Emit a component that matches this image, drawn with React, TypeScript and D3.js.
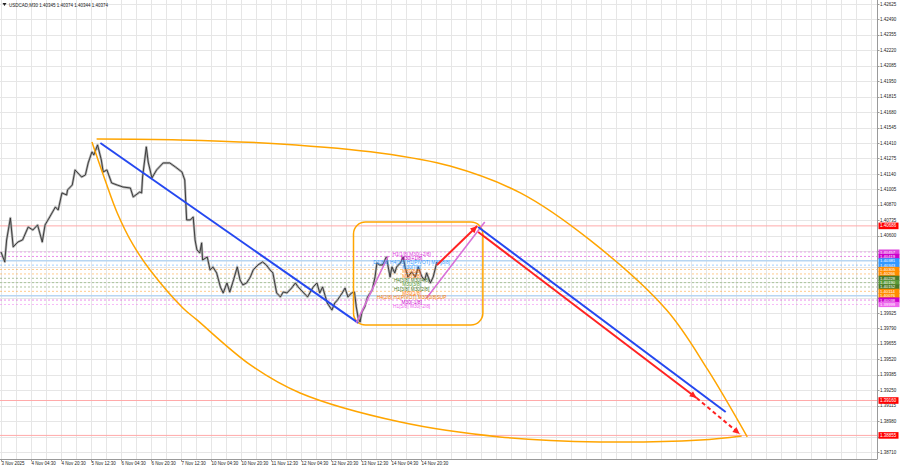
import React from 'react';
import * as d3 from 'd3';

const W = 900;
const H = 468;
const PLOT_R = 877;
const PLOT_B = 459;

const titleText = 'USDCAD,M30  1.40345 1.40374 1.40344 1.40374';

const priceTickLabels = [
  '1.42625', '1.42490', '1.42355', '1.42220', '1.42085', '1.41950', '1.41815', '1.41680',
  '1.41545', '1.41410', '1.41275', '1.41140', '1.41005', '1.40870', '1.40735', '1.40600',
  '1.39925', '1.39790', '1.39655', '1.39520',
  '1.39385', '1.39250', '1.39115', '1.38980', '1.38710',
];
const gridPrices = [
  1.42625, 1.42490, 1.42355, 1.42220, 1.42085, 1.41950, 1.41815, 1.41680,
  1.41545, 1.41410, 1.41275, 1.41140, 1.41005, 1.40870, 1.40735, 1.40600,
  1.40465, 1.40330, 1.40195, 1.40060, 1.39925, 1.39790, 1.39655, 1.39520,
  1.39385, 1.39250, 1.39115, 1.38980, 1.38845, 1.38710,
];

const timeLabels = [
  '3 Nov 2025', '4 Nov 04:30', '4 Nov 20:30', '5 Nov 12:30', '6 Nov 04:30', '6 Nov 20:30',
  '7 Nov 12:30', '10 Nov 04:30', '10 Nov 20:30', '11 Nov 12:30', '12 Nov 04:30',
  '12 Nov 20:30', '13 Nov 12:30', '14 Nov 04:30', '14 Nov 20:30',
];
const timeLabelBars = [0, 32, 64, 96, 128, 160, 192, 224, 256, 288, 320, 352, 384, 416, 448];

// price path (bar index, price)
const priceBars = [0, 4, 6, 10, 13, 18, 23, 29, 34, 39, 44, 47, 52, 58, 61, 65, 70, 71, 76, 79, 82, 86, 90, 93, 97, 99, 103, 107, 109, 113, 118, 124, 130, 138, 141, 148, 150, 151, 155, 157, 161, 166, 173, 180, 186, 193, 196, 198, 202, 205, 207, 209, 212, 214, 215, 220, 223, 226, 230, 234, 237, 241, 244, 248, 252, 255, 258, 262, 266, 269, 274, 279, 283, 287, 290, 294, 298, 301, 305, 310, 314, 317, 322, 327, 333, 337, 340, 343, 348, 353, 356, 359, 364, 367, 370, 374, 377, 379, 381, 383, 385, 388, 391, 396, 399, 401, 404, 407, 411, 413, 415, 417, 420, 422, 426, 429, 431, 434, 438, 442, 445, 449, 452, 454, 458, 461, 465];
const priceClose = [1.40458, 1.40371, 1.40563, 1.40755, 1.40502, 1.40545, 1.40563, 1.40676, 1.40650, 1.40694, 1.40545, 1.40694, 1.40764, 1.40851, 1.40825, 1.40974, 1.40956, 1.41000, 1.41043, 1.41175, 1.41148, 1.41113, 1.41131, 1.41236, 1.41332, 1.41306, 1.41393, 1.41262, 1.41157, 1.41175, 1.41061, 1.41043, 1.41026, 1.41017, 1.40939, 1.40982, 1.40974, 1.41113, 1.41376, 1.41244, 1.41105, 1.41175, 1.41236, 1.41236, 1.41201, 1.41157, 1.41087, 1.40738, 1.40738, 1.40764, 1.40563, 1.40476, 1.40449, 1.40537, 1.40388, 1.40414, 1.40301, 1.40327, 1.40275, 1.40152, 1.40100, 1.40187, 1.40108, 1.40213, 1.40327, 1.40213, 1.40170, 1.40187, 1.40240, 1.40301, 1.40344, 1.40371, 1.40344, 1.40301, 1.40275, 1.40100, 1.40065, 1.40108, 1.40100, 1.40143, 1.40187, 1.40152, 1.40108, 1.40065, 1.40152, 1.40187, 1.40100, 1.40152, 1.40012, 1.39951, 1.40012, 1.40039, 1.40100, 1.40143, 1.40065, 1.40100, 1.40108, 1.39977, 1.39881, 1.39846, 1.39934, 1.39977, 1.40065, 1.40126, 1.40240, 1.40362, 1.40344, 1.40344, 1.40414, 1.40327, 1.40240, 1.40327, 1.40275, 1.40327, 1.40362, 1.40414, 1.40327, 1.40240, 1.40283, 1.40240, 1.40327, 1.40240, 1.40213, 1.40275, 1.40187, 1.40240, 1.40371];

// Murrey math levels
const mmLevels = [1.40457, 1.40419, 1.40381, 1.40343, 1.40305, 1.40266, 1.40228, 1.40190, 1.40152, 1.40114, 1.40076, 1.40038, 1.39999];
const mmColors = ['#dd44dd', '#cc00cc', '#3399ff', '#3399ff', '#ff8c00', '#ff8c00', '#4a7a2a', '#5a9a3a', '#4a7a2a', '#ff8c00', '#ff8c00', '#cc00cc', '#ee66ee'];
const mmTexts = [
  'H1[1/8] M30[+2/8]', 'M30[+1/8]', 'D1[8/8] H4[1/8] H1[PIVOT] M30[8/8]', 'M30[7/8]', 'M30[6/8]',
  'M30[5/8]', 'H4[3/8] M30[4/8]', 'M30[3/8]', 'H1[3/8] M30[2/8]', 'M30[1/8]',
  'H4[2/8] H1[PIVOT] M30[0/8]SUP', 'M30[-1/8]', 'H1[5/8] M30[-2/8]',
];

// red horizontal levels
const redLevels = [1.40686, 1.39160, 1.38855];

// drawn objects (bar, price)
const blueDownBars = [106, 381];
const blueDownPrices = [1.41410, 1.39838];
const pink1Bars = [379, 413];
const pink1Prices = [1.39838, 1.40423];
const pink2Bars = [454, 516];
const pink2Prices = [1.40056, 1.40720];
const redUpBars = [465, 508];
const redUpPrices = [1.40344, 1.40685];
const blueProjBars = [509, 773];
const blueProjPrices = [1.40676, 1.39060];
const redProjBars = [509, 742, 788];
const redProjPrices = [1.40633, 1.39182, 1.38868];
const boxBars = [376, 514];
const boxPrices = [1.40720, 1.39820];
const arcUpperBars = [102, 191, 298, 404, 479, 554, 628, 710, 754, 796];
const arcUpperPrices = [1.41445, 1.41437, 1.41402, 1.41323, 1.41209, 1.40974, 1.40563, 1.39951, 1.39427, 1.38842];
const arcLowerBars = [97, 111, 124, 141, 159, 194, 209, 266, 319, 426, 532, 639, 746, 790];
const arcLowerPrices = [1.41419, 1.41087, 1.40799, 1.40519, 1.40301, 1.39969, 1.39864, 1.39471, 1.39226, 1.38972, 1.38842, 1.38798, 1.38815, 1.38850];
const mmLabelBar = 438;

const FONT = '"Liberation Sans", Arial, sans-serif';

function arrowHead(x1: number, y1: number, x2: number, y2: number, len = 7, half = 3.2) {
  const a = Math.atan2(y2 - y1, x2 - x1);
  const bx = x2 - len * Math.cos(a);
  const by = y2 - len * Math.sin(a);
  const px = -Math.sin(a) * half;
  const py = Math.cos(a) * half;
  return `${x2},${y2} ${bx + px},${by + py} ${bx - px},${by - py}`;
}

export default function App() {
  const x = d3.scaleLinear().domain([0, 800]).range([1, 751]);
  const y = d3.scaleLinear().domain([1.38710, 1.42625]).range([452, 4]);

  const line = d3.line<[number, number]>().x(d => x(d[0])).y(d => y(d[1]));
  const curve = d3.line<[number, number]>().x(d => x(d[0])).y(d => y(d[1])).curve(d3.curveCatmullRom.alpha(0.5));

  const pricePts: [number, number][] = priceBars.map((b, i) => [b, priceClose[i]]);
  const zip = (bs: number[], ps: number[]) => bs.map((b, i) => [b, ps[i]] as [number, number]);

  const vGrid: number[] = [];
  for (let b = 0; x(b) < PLOT_R; b += 16) vGrid.push(b);

  const redUp = zip(redUpBars, redUpPrices);
  const redProj = zip(redProjBars, redProjPrices);

  return (
    <svg width={W} height={H} style={{ position: 'absolute', left: 0, top: 0, display: 'block', background: '#fff' }}>
      <rect x={0} y={0} width={W} height={H} fill="#fff" />
      {/* grid */}
      {vGrid.map(b => (
        <line key={'vg' + b} x1={Math.round(x(b)) + 0.5} x2={Math.round(x(b)) + 0.5} y1={0} y2={PLOT_B} stroke="#e6e6e6" strokeWidth={1} />
      ))}
      {gridPrices.map(t => (
        <line key={'hg' + t} x1={0} x2={PLOT_R} y1={Math.round(y(t)) + 0.5} y2={Math.round(y(t)) + 0.5} stroke="#e6e6e6" strokeWidth={1} />
      ))}

      {/* MM levels */}
      {mmLevels.map((v, i) => {
        const solid = i === 2 || i === 10;
        return (
          <line key={'mm' + i} x1={0} x2={PLOT_R} y1={y(v)} y2={y(v)}
            stroke={solid ? '#b8d6f2' : mmColors[i]} strokeOpacity={solid ? 1 : 0.45}
            strokeWidth={solid ? 1.6 : 1} strokeDasharray={solid ? undefined : '2,2'} />
        );
      })}

      {/* red levels */}
      {redLevels.map(v => (
        <line key={'rl' + v} x1={0} x2={PLOT_R} y1={y(v)} y2={y(v)} stroke="#ffaaaa" strokeWidth={1} />
      ))}

      {/* price */}
      <path d={line(pricePts) || ''} fill="none" stroke="#b4b4b4" strokeWidth={2.4} strokeLinejoin="round" />
      <path d={line(pricePts) || ''} fill="none" stroke="#303030" strokeWidth={0.9} strokeLinejoin="round" />

      {/* orange arcs */}
      <path d={curve(zip(arcUpperBars, arcUpperPrices)) || ''} fill="none" stroke="#ffa500" strokeWidth={1.5} />
      <path d={curve(zip(arcLowerBars, arcLowerPrices)) || ''} fill="none" stroke="#ffa500" strokeWidth={1.5} />

      {/* orange box */}
      <rect x={x(boxBars[0])} y={y(boxPrices[0])} width={x(boxBars[1]) - x(boxBars[0])} height={y(boxPrices[1]) - y(boxPrices[0])}
        rx={12} ry={12} fill="none" stroke="#ffa500" strokeWidth={1.5} />

      {/* blue down trend */}
      <path d={line(zip(blueDownBars, blueDownPrices)) || ''} stroke="#2548f0" strokeWidth={2} fill="none" />
      {/* pink lines */}
      <path d={line(zip(pink1Bars, pink1Prices)) || ''} stroke="#d870d8" strokeWidth={1.6} fill="none" />
      <path d={line(zip(pink2Bars, pink2Prices)) || ''} stroke="#d870d8" strokeWidth={1.6} fill="none" />

      {/* MM text labels */}
      {mmLevels.map((v, i) => (
        <text key={'mt' + i} x={x(mmLabelBar)} y={y(v) + 3.6} fontSize={4.8} fontFamily={FONT} fill={mmColors[i] === '#ff8c00' ? '#ff7a00' : mmColors[i]} textAnchor="middle">{mmTexts[i]}</text>
      ))}

      {/* red up arrow */}
      <path d={line(redUp) || ''} stroke="#ff2222" strokeWidth={2} fill="none" />
      <polygon points={arrowHead(x(redUp[0][0]), y(redUp[0][1]), x(redUp[1][0]), y(redUp[1][1]))} fill="#ff2222" />

      {/* blue projection */}
      <path d={line(zip(blueProjBars, blueProjPrices)) || ''} stroke="#2548f0" strokeWidth={2} fill="none" />

      {/* red projection */}
      <path d={line([redProj[0], redProj[1]]) || ''} stroke="#ff2222" strokeWidth={2} fill="none" />
      <polygon points={arrowHead(x(redProj[0][0]), y(redProj[0][1]), x(redProj[1][0]), y(redProj[1][1]))} fill="#ff2222" />
      <path d={line([redProj[1], redProj[2]]) || ''} stroke="#ff2222" strokeWidth={2} fill="none" strokeDasharray="4,3" />
      <polygon points={arrowHead(x(redProj[1][0]), y(redProj[1][1]), x(redProj[2][0]), y(redProj[2][1]))} fill="#ff2222" />

      {/* axes frame */}
      <rect x={PLOT_R} y={0} width={W - PLOT_R} height={H} fill="#fff" />
      <rect x={0} y={PLOT_B} width={W} height={H - PLOT_B} fill="#fff" />
      <line x1={PLOT_R + 0.5} x2={PLOT_R + 0.5} y1={0} y2={PLOT_B} stroke="#9a9a9a" />
      <line x1={0} x2={PLOT_R + 0.5} y1={PLOT_B + 0.5} y2={PLOT_B + 0.5} stroke="#9a9a9a" />

      {/* price axis */}
      {gridPrices.map(t => (
        <line key={'ptk' + t} x1={PLOT_R} x2={PLOT_R + 2.5} y1={Math.round(y(t)) + 0.5} y2={Math.round(y(t)) + 0.5} stroke="#9a9a9a" />
      ))}
      {priceTickLabels.map(t => (
        <text key={'pt' + t} x={880} y={y(+t) + 1.6} fontSize={4.5} fontFamily={FONT} fill="#222">{t}</text>
      ))}

      {/* MM axis labels */}
      {mmLevels.map((v, i) => (
        <g key={'ml' + i}>
          <rect x={878.5} y={y(v) - 2.6} width={21} height={5.2} fill={mmColors[i]} />
          <text x={880} y={y(v) + 1.5} fontSize={4.2} fontFamily={FONT} fill="#fff">{v.toFixed(5)}</text>
        </g>
      ))}

      {/* red axis labels */}
      {redLevels.map(v => (
        <g key={'rlab' + v}>
          <rect x={878.5} y={y(v) - 3.3} width={20} height={6.6} fill="#ff0000" />
          <text x={880} y={y(v) + 1.6} fontSize={4.5} fontFamily={FONT} fill="#fff">{v.toFixed(5)}</text>
        </g>
      ))}

      {/* time axis */}
      {timeLabelBars.map((b, i) => (
        <g key={'tl' + b}>
          <line x1={Math.round(x(b)) + 0.5} x2={Math.round(x(b)) + 0.5} y1={PLOT_B} y2={PLOT_B + 2.5} stroke="#9a9a9a" />
          <text x={x(b) + 0.5} y={465} fontSize={4.5} fontFamily={FONT} fill="#222">{timeLabels[i]}</text>
        </g>
      ))}

      {/* title */}
      <polygon points="2.5,3 6.5,3 4.5,6" fill="#222" />
      <text x={9} y={6.6} fontSize={4.5} fontFamily={FONT} fill="#222">{titleText}</text>
    </svg>
  );
}
